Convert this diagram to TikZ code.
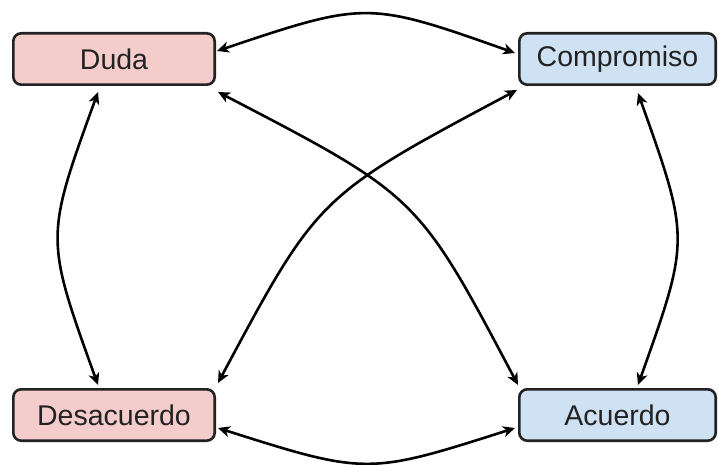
\documentclass[tikz,border=0pt]{standalone}
\usepackage{fontspec}
\setmainfont{Liberation Sans}
\usetikzlibrary{arrows.meta}
\definecolor{redbox}{HTML}{F4CCCC}
\definecolor{bluebox}{HTML}{CFE2F3}
\definecolor{edge}{HTML}{222222}
\begin{document}
\begin{tikzpicture}[x=1pt,y=-1pt,
  state/.style={draw=edge,line width=2.6pt,rounded corners=8pt,
    minimum width=201.4pt,minimum height=51.4pt,inner sep=0pt,
    font=\fontsize{28.5}{31}\selectfont,text=edge},
  negbox/.style={state,fill=redbox},
  posbox/.style={state,fill=bluebox,minimum width=196.4pt},
  link/.style={line width=2.6pt,draw=black,
    {Stealth[length=12pt,width=11pt,inset=3.5pt]}-{Stealth[length=12pt,width=11pt,inset=3.5pt]}}]
  \useasboundingbox (0,0) rectangle (718,465);
  % the four states
  \node[negbox] (duda) at (114,59) {Duda};
  \node[posbox] (comp) at (617.5,59) {Compromiso};
  \node[negbox] (desa) at (114,415) {Desacuerdo};
  \node[posbox] (acue) at (617.5,415) {Acuerdo};
  % arcs along the sides
  \draw[link] ([shift={(1,-8)}]duda.east) .. controls (366,1) and (368,1) .. ([shift={(-3,-6)}]comp.west);
  \draw[link] ([shift={(2,13)}]desa.east) .. controls (366,475) and (368,475) .. ([shift={(-3,13)}]acue.west);
  \draw[link] ([shift={(-16,6)}]duda.south) .. controls (45,238) and (45,238) .. ([shift={(-16,-3)}]desa.north);
  \draw[link] ([shift={(20.5,7)}]comp.south) .. controls (690,239) and (690,239) .. ([shift={(20.5,-3)}]acue.north);
  % crossing diagonals
  \draw[link] ([shift={(2,6)}]duda.south east) .. controls (418,196) and (418,196) .. ([shift={(0,-3)}]acue.north west);
  \draw[link] ([shift={(-1,4)}]comp.south west) .. controls (318,196) and (318,196) .. ([shift={(2,-5)}]desa.north east);
\end{tikzpicture}
\end{document}
